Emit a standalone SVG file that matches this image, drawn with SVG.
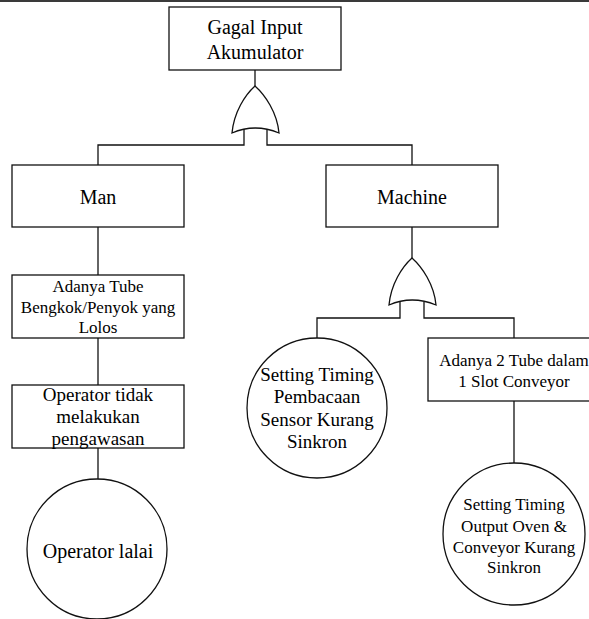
<svg xmlns="http://www.w3.org/2000/svg" width="589" height="619" viewBox="0 0 589 619">
<style>
.b{fill:#fff;stroke:#111;stroke-width:1.3}
.c{stroke:#111;stroke-width:1.3;fill:none}
</style>
<defs>
<path id="org" d="M0,0 C-10,9 -21,26 -23,47 Q0,37 24,47 C22,26 10,9 0,0 Z" fill="#fff" stroke="#111" stroke-width="1.3"/>
</defs>
<rect x="0" y="0" width="589" height="2" fill="#3a3a3a"/>
<g id="connectors">
<line class="c" x1="255" y1="70" x2="255" y2="86"/>
<polyline class="c" points="244,129 244,145 98,145 98,165"/>
<polyline class="c" points="267,129 267,145 412,145 412,165"/>
<line class="c" x1="98" y1="227" x2="98" y2="275"/>
<line class="c" x1="98" y1="338" x2="98" y2="385"/>
<line class="c" x1="98" y1="448" x2="98" y2="479"/>
<line class="c" x1="412" y1="227" x2="412" y2="258"/>
<polyline class="c" points="400,302 400,318 317,318 317,338"/>
<polyline class="c" points="424,302 424,318 514,318 514,338"/>
<line class="c" x1="514" y1="401" x2="514" y2="463"/>
</g>
<g id="gate-top"><use href="#org" x="255" y="86"/></g>
<g id="gate-machine"><use href="#org" x="412" y="258"/></g>
<g font-family="Liberation Serif, Times New Roman, DejaVu Serif, serif" text-anchor="middle" fill="#000">
<g id="node-top">
<rect class="b" x="169" y="7" width="172" height="63"/>
<text x="255" y="34" font-size="20">Gagal Input</text>
<text x="255" y="59" font-size="20">Akumulator</text>
</g>
<g id="node-man">
<rect class="b" x="12" y="165" width="172" height="62"/>
<text x="98" y="204" font-size="20">Man</text>
</g>
<g id="node-machine">
<rect class="b" x="326" y="165" width="172" height="62"/>
<text x="412" y="204" font-size="20">Machine</text>
</g>
<g id="node-tube">
<rect class="b" x="12" y="275" width="172" height="63"/>
<text x="98" y="292" font-size="17">Adanya Tube</text>
<text x="98" y="313" font-size="17">Bengkok/Penyok yang</text>
<text x="98" y="333" font-size="17">Lolos</text>
</g>
<g id="node-operator">
<rect class="b" x="12" y="385" width="172" height="63"/>
<text x="98" y="401" font-size="19">Operator tidak</text>
<text x="98" y="423" font-size="19">melakukan</text>
<text x="98" y="445" font-size="19">pengawasan</text>
</g>
<g id="node-lalai">
<circle class="b" cx="97" cy="549" r="70"/>
<text x="98" y="558" font-size="20">Operator lalai</text>
</g>
<g id="node-sensor">
<circle class="b" cx="317" cy="408" r="70"/>
<text x="317" y="381" font-size="19">Setting Timing</text>
<text x="317" y="403" font-size="19">Pembacaan</text>
<text x="317" y="426" font-size="19">Sensor Kurang</text>
<text x="317" y="448" font-size="19">Sinkron</text>
</g>
<g id="node-slot">
<rect class="b" x="428" y="338" width="172" height="63"/>
<text x="514" y="366" font-size="17">Adanya 2 Tube dalam</text>
<text x="514" y="387" font-size="17">1 Slot Conveyor</text>
</g>
<g id="node-oven">
<circle class="b" cx="514" cy="534" r="71"/>
<text x="514" y="510" font-size="17">Setting Timing</text>
<text x="514" y="532" font-size="17">Output Oven &amp;</text>
<text x="514" y="553" font-size="17">Conveyor Kurang</text>
<text x="514" y="573" font-size="17">Sinkron</text>
</g>
</g>
</svg>
